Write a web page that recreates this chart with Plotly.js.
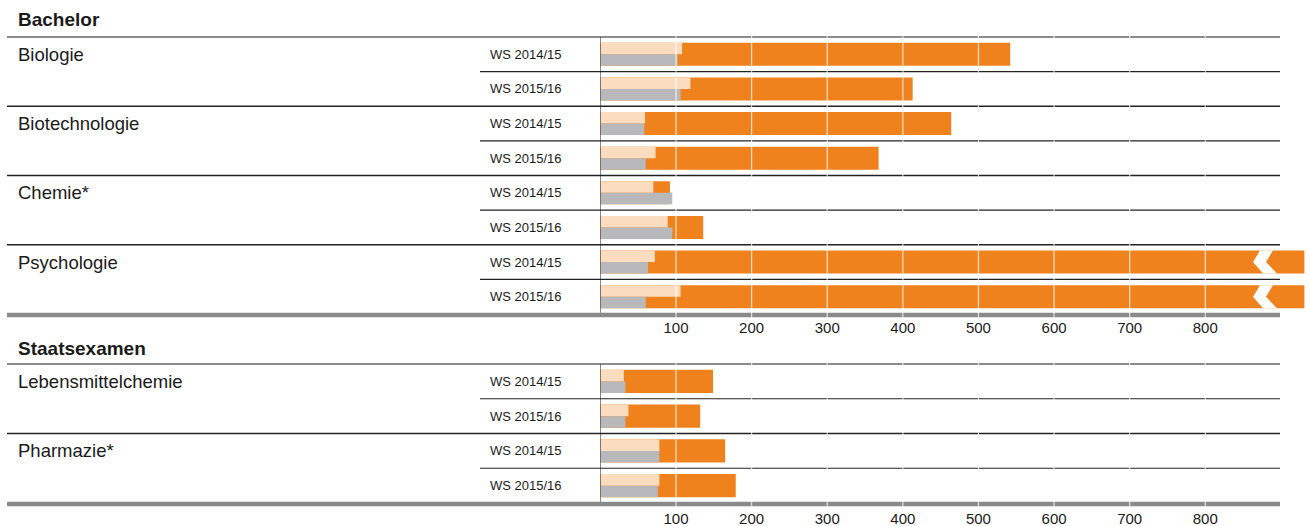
<!DOCTYPE html>
<html>
<head>
<meta charset="utf-8">
<script src="https://cdn.plot.ly/plotly-3.0.1.min.js"></script>
<style>html,body{margin:0;padding:0;background:#fff;}#chart{width:1309px;height:526px;}</style>
</head>
<body>
<div id="chart"></div>
<script>
// ---- data ----
const semesters = ['WS 2014/15', 'WS 2015/16'];
const bachelorTitle = 'Bachelor';
const bachelorCats = ['Biologie', 'Biotechnologie', 'Chemie*', 'Psychologie'];
const bachelorApplicants = [[542, 413], [464, 368], [92, 136], [2400, 2600]]; // Psychologie exceeds the axis (broken bar)
const bachelorAdmitted   = [[108, 119], [59, 73], [70, 89], [72, 106]];
const bachelorEnrolled   = [[102, 106], [58, 60], [95, 95], [63, 60]];
const staatsTitle = 'Staatsexamen';
const staatsCats = ['Lebensmittelchemie', 'Pharmazie*'];
const staatsApplicants = [[149, 132], [165, 179]];
const staatsAdmitted   = [[31, 37], [78, 78]];
const staatsEnrolled   = [[33, 33], [78, 76]];
const xTicks = [100, 200, 300, 400, 500, 600, 700, 800];
const axisMax = 900;

// ---- styling ----
const W = 1309, H = 526;
const FONT = 'Liberation Sans, Arial, sans-serif';
const ORANGE = '#F0821E', PEACH = '#FCDCBF', GREY = '#B9B9BB';
const px = v => v / W;
const py = v => 1 - v / H;
const xDomain = [px(600.4), px(1304.4)];
const xRange = [0, (1304.4 - 600.4) / 0.7561];
const BW = 0.665;

const sections = [
  {title: bachelorTitle, cats: bachelorCats, a: bachelorApplicants, b: bachelorAdmitted, c: bachelorEnrolled,
   top: 37, bottom: 314, titleY: 19, xa: 'x', ya: 'y', ticklen: 0},
  {title: staatsTitle, cats: staatsCats, a: staatsApplicants, b: staatsAdmitted, c: staatsEnrolled,
   top: 364, bottom: 503, titleY: 348, xa: 'x2', ya: 'y2', ticklen: 2}
];

const traces = [], shapes = [], annotations = [];
const layout = {
  width: W, height: H, margin: {l: 0, r: 0, t: 0, b: 0},
  paper_bgcolor: '#fff', plot_bgcolor: 'rgba(0,0,0,0)',
  barmode: 'overlay', showlegend: false, hovermode: false,
  font: {family: FONT, color: '#1a1a1a'}
};

sections.forEach((s, si) => {
  const n = s.cats.length * semesters.length;
  const ys = [], va = [], vb = [], vc = [];
  s.cats.forEach((c, i) => semesters.forEach((sem, j) => {
    const y = i * semesters.length + j;
    ys.push(y); va.push(s.a[i][j]); vb.push(s.b[i][j]); vc.push(s.c[i][j]);
    annotations.push({xref: 'paper', x: px(488), xanchor: 'left', yref: s.ya, y: y, yanchor: 'middle',
      text: sem, showarrow: false, font: {size: 13, family: FONT, color: '#1a1a1a'}});
  }));
  const common = {type: 'bar', orientation: 'h', y: ys, xaxis: s.xa, yaxis: s.ya, hoverinfo: 'skip'};
  traces.push(Object.assign({}, common, {x: va, width: BW, offset: -BW / 2, marker: {color: ORANGE, line: {width: 0}}}));
  traces.push(Object.assign({}, common, {x: vb, width: BW / 2, offset: -BW / 2, marker: {color: PEACH, line: {width: 0}}}));
  traces.push(Object.assign({}, common, {x: vc, width: BW / 2, offset: 0, marker: {color: GREY, line: {width: 0}}}));

  const xk = si === 0 ? 'xaxis' : 'xaxis2';
  const yk = si === 0 ? 'yaxis' : 'yaxis2';
  layout[xk] = {domain: xDomain, range: xRange, anchor: s.ya, showgrid: false, zeroline: false, showline: false,
    tickmode: 'array', tickvals: xTicks, ticktext: xTicks.map(String), ticks: 'outside', ticklen: s.ticklen,
    tickcolor: 'rgba(0,0,0,0)', tickfont: {size: 15, family: FONT, color: '#1a1a1a'}, fixedrange: true};
  layout[yk] = {domain: [py(s.bottom), py(s.top)], range: [n - 0.5, -0.5], anchor: s.xa, showgrid: false,
    zeroline: false, showticklabels: false, ticks: '', fixedrange: true};

  // section title
  annotations.push({xref: 'paper', yref: 'paper', x: px(16), y: py(s.titleY), xanchor: 'left', yanchor: 'middle',
    text: '<b>' + s.title + '</b>', showarrow: false, font: {size: 19, family: FONT, color: '#1a1a1a'}});
  // group names
  s.cats.forEach((c, i) => annotations.push({xref: 'paper', x: px(16), xanchor: 'left', yref: s.ya,
    y: i * semesters.length, yanchor: 'middle', text: c, showarrow: false, font: {size: 18.5, family: FONT, color: '#1a1a1a'}}));

  // top line
  shapes.push({type: 'line', xref: 'paper', yref: 'paper', x0: px(7), x1: px(1280), y0: py(s.top), y1: py(s.top),
    line: {color: '#666', width: 1.6}, layer: 'above'});
  // sub-row lines and group lines
  s.cats.forEach((c, i) => {
    shapes.push({type: 'line', xref: 'paper', yref: s.ya, x0: px(480), x1: px(1280), y0: i * 2 + 0.5, y1: i * 2 + 0.5,
      line: {color: '#222', width: 1.2}, layer: 'above'});
    if (i < s.cats.length - 1)
      shapes.push({type: 'line', xref: 'paper', yref: s.ya, x0: px(7), x1: px(1280), y0: i * 2 + 1.5, y1: i * 2 + 1.5,
        line: {color: '#222', width: 1.4}, layer: 'above'});
  });
  // zero line
  shapes.push({type: 'line', xref: s.xa, yref: s.ya, x0: 0, x1: 0, y0: -0.5, y1: n - 0.5,
    line: {color: '#222', width: 1}, layer: 'above'});
  // thick bottom line
  shapes.push({type: 'line', xref: 'paper', yref: 'paper', x0: px(7), x1: px(1280), y0: py(s.bottom + 1), y1: py(s.bottom + 1),
    line: {color: '#8a8a8a', width: 4.5}, layer: 'above'});
  // white grid lines over the bars
  xTicks.forEach(t => shapes.push({type: 'line', xref: s.xa, yref: 'paper', x0: t, x1: t,
    y0: py(s.bottom + 3.5), y1: py(s.top - 1),
    line: {color: 'rgba(255,255,255,0.75)', width: 1.2}, layer: 'above'}));
  // break marks for bars beyond the axis
  const X = p => (p - 600.4) / 0.7561;
  va.forEach((v, k) => {
    if (v > axisMax) {
      const t = ys[k] - BW / 2, m = ys[k], b = ys[k] + BW / 2;
      shapes.push({type: 'path', xref: s.xa, yref: s.ya, layer: 'above', fillcolor: '#fff', line: {width: 0},
        path: `M ${X(1260)} ${t} L ${X(1273)} ${t} L ${X(1266)} ${m} L ${X(1277)} ${b} L ${X(1263)} ${b} L ${X(1253)} ${m} Z`});
    }
  });
});

layout.shapes = shapes;
layout.annotations = annotations;
Plotly.newPlot('chart', traces, layout, {staticPlot: true, displayModeBar: false});
</script>
</body>
</html>
